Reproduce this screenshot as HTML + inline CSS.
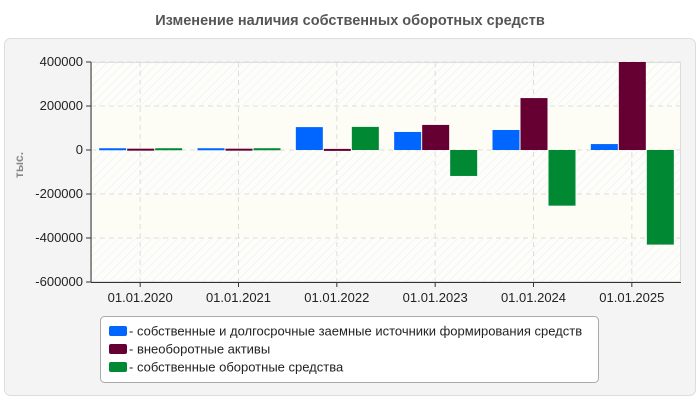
<!DOCTYPE html>
<html><head><meta charset="utf-8"><style>
body{margin:0;width:700px;height:400px;background:#fff;font-family:"Liberation Sans",sans-serif;overflow:hidden}
</style></head><body>
<svg width="700" height="400" xmlns="http://www.w3.org/2000/svg">
<defs><pattern id="hatch" width="6" height="6" patternUnits="userSpaceOnUse" patternTransform="rotate(-45)"><rect width="6" height="6" fill="#fdfdfa"/><line x1="0" y1="0" x2="6" y2="0" stroke="#ececec" stroke-width="1"/></pattern></defs>
<text x="350" y="25" text-anchor="middle" font-size="14.5" font-weight="bold" fill="#555">Изменение наличия собственных оборотных средств</text>
<rect x="4.5" y="38.5" width="691" height="357" rx="6" fill="#f4f4f4" stroke="#ddd"/>
<g id="plot"></g>
<text transform="translate(23,165) rotate(-90)" text-anchor="middle" font-size="12" font-weight="bold" fill="#888">тыс.</text>
<g>
<rect x="100.5" y="316.5" width="498" height="66" rx="4" fill="#fff" stroke="#aaa"/>
<g id="leg"></g>
</g>
</svg>
<script>
const categories=["01.01.2020","01.01.2021","01.01.2022","01.01.2023","01.01.2024","01.01.2025"];
const seriesNames=["собственные и долгосрочные заемные источники формирования средств","внеоборотные активы","собственные оборотные средства"];
const seriesColors=["#0066ff","#660033","#008833"];
const s1=[8000,8000,104000,82000,91000,27000];
const s2=[6000,6000,5000,114000,236000,400000];
const s3=[8000,8000,105000,-118000,-253000,-430000];
const yTicks=[400000,200000,0,-200000,-400000,-600000];
const NS="http://www.w3.org/2000/svg";
const L=91,R=681,T=62,B=282,ymin=-600000,ymax=400000;
const y=v=>T+(ymax-Math.min(ymax,Math.max(ymin,v)))/(ymax-ymin)*(B-T);
const cw=(R-L)/categories.length;
const x=i=>L+cw*(i+0.5);
const g=document.getElementById('plot');
function mk(t,a,p){const e=document.createElementNS(NS,t);for(const k in a)e.setAttribute(k,a[k]);(p||g).appendChild(e);return e;}
mk('rect',{x:L,y:T,width:R-L,height:B-T,fill:'url(#hatch)'});
for(let k=0;k<yTicks.length-1;k+=2){mk('rect',{x:L,y:y(yTicks[k+1]),width:R-L,height:y(yTicks[k+2]??ymin)-y(yTicks[k+1]),fill:'#fdfdf6'});}
mk('rect',{x:L+0.5,y:T+0.5,width:R-L-1,height:B-T-1,fill:'none',stroke:'#ddd'});
yTicks.forEach(v=>{
 const e=mk('line',{x1:L,x2:R,y1:y(v),y2:y(v),stroke:'#ddd','stroke-dasharray':'5,4'});
 
 mk('line',{x1:L-5,x2:L,y1:y(v),y2:y(v),stroke:'#333'});
 const t=mk('text',{x:L-8,y:y(v)+4,'text-anchor':'end','font-size':'13',fill:'#222'});t.textContent=v;
 
});
categories.forEach((c,i)=>{
 const e=mk('line',{x1:x(i),x2:x(i),y1:T,y2:B,stroke:'#ddd','stroke-dasharray':'5,4'});
 
 mk('line',{x1:x(i),x2:x(i),y1:B,y2:B+5,stroke:'#333'});
 const t=mk('text',{x:x(i),y:B+20,'text-anchor':'middle','font-size':'13',fill:'#222'});t.textContent=c;
 
});
[s1,s2,s3].forEach((s,j)=>{
 s.forEach((v,i)=>{
  const bw=27,x0=x(i)-41+j*28;
  const y0=y(0),y1=y(v);
  const r=mk('rect',{x:x0,y:Math.min(y0,y1),width:bw,height:Math.max(2,Math.abs(y1-y0)),fill:seriesColors[j]});
  
  
 });
});
mk('line',{x1:L,x2:L,y1:T,y2:B,stroke:'#333'});
mk('line',{x1:L,x2:R,y1:B+0.5,y2:B+0.5,stroke:'#333'});
const lg=document.getElementById('leg');
seriesNames.forEach((n,j)=>{
 const yy=331+j*18;
 const r=mk('rect',{x:109,y:yy-5,width:18,height:10,rx:2,fill:seriesColors[j]},lg);
 
 const t=mk('text',{x:129,y:yy+4.5,'font-size':'13',fill:'#222'},lg);t.textContent='- '+n;
 
});
</script>
</body></html>
